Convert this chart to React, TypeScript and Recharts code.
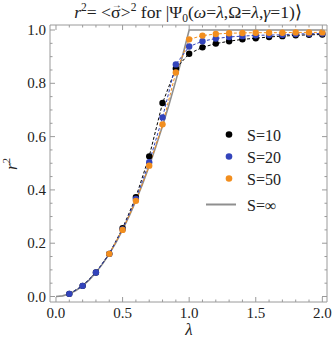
import React from 'react';
import { ComposedChart, Line, XAxis, YAxis, Label, Legend } from 'recharts';

// lambda grid of the finite-S points
const lambdas = [0.1, 0.2, 0.3, 0.4, 0.5, 0.6, 0.7, 0.8, 0.9, 1.0, 1.1, 1.2, 1.3, 1.4, 1.5, 1.6, 1.7, 1.8, 1.9, 2.0];

const s10 = [0.01, 0.04, 0.09, 0.16, 0.256, 0.373, 0.526, 0.726, 0.856, 0.911, 0.935, 0.949, 0.958, 0.965, 0.969, 0.974, 0.977, 0.98, 0.982, 0.983];
const s20 = [0.01, 0.04, 0.09, 0.16, 0.252, 0.366, 0.504, 0.672, 0.871, 0.938, 0.958, 0.968, 0.974, 0.977, 0.98, 0.981, 0.982, 0.985, 0.986, 0.987];
const s50 = [null, null, null, 0.16, 0.25, 0.359, 0.491, 0.646, 0.841, 0.965, 0.979, 0.985, 0.988, 0.989, 0.99, 0.99, 0.99, 0.991, 0.991, 0.991];

// S = infinity curve
const infLambdas = [0, 0.05, 0.1, 0.15, 0.2, 0.25, 0.3, 0.35, 0.4, 0.45, 0.5, 0.55, 0.6, 0.65, 0.7, 0.75, 0.8, 0.85, 0.9, 0.95, 1.0, 2.0];
const infValues = [0, 0.0025, 0.01, 0.0225, 0.04, 0.0625, 0.09, 0.1225, 0.16, 0.2025, 0.25, 0.3025, 0.36, 0.4225, 0.49, 0.5625, 0.64, 0.7225, 0.81, 0.9025, 1.0, 1.0];

const xTicks = [0, 0.1, 0.2, 0.3, 0.4, 0.5, 0.6, 0.7, 0.8, 0.9, 1.0, 1.1, 1.2, 1.3, 1.4, 1.5, 1.6, 1.7, 1.8, 1.9, 2.0];
const xMajor = [0, 0.5, 1.0, 1.5, 2.0];
const yTicks = [0, 0.05, 0.1, 0.15, 0.2, 0.25, 0.3, 0.35, 0.4, 0.45, 0.5, 0.55, 0.6, 0.65, 0.7, 0.75, 0.8, 0.85, 0.9, 0.95, 1.0];
const yMajor = [0, 0.2, 0.4, 0.6, 0.8, 1.0];

const seriesNames = ['S=10', 'S=20', 'S=50', 'S=\u221e'];
const colors = ['#000000', '#3344bb', '#f28e1e', '#8f8f8f'];

const toPoints = (xs: number[], ys: (number | null)[]) => xs.map((x, i) => ({ x, y: ys[i] }));

const data10 = toPoints(lambdas, s10);
const data20 = toPoints(lambdas, s20);
const data50 = toPoints(lambdas, s50);
const dataInf = toPoints(infLambdas, infValues);

const FRAME = '#9a9a9a';
const SERIF = 'Liberation Serif';
const TEXT = '#222';

const isIn = (v: number, list: number[]) => list.some((m) => Math.abs(m - v) < 1e-6);

const BottomTick = (props: any) => {
  const { x, y, payload } = props;
  const major = isIn(payload.value, xMajor);
  return (
    <g>
      <line x1={x} x2={x} y1={y} y2={y - (major ? 5 : 2.5)} stroke={FRAME} />
      {major && (
        <text x={x} y={y + 16} textAnchor="middle" fontFamily={SERIF} fontSize={15} fill={TEXT}>
          {payload.value.toFixed(1)}
        </text>
      )}
    </g>
  );
};

const TopTick = (props: any) => {
  const { x, y, payload } = props;
  const major = isIn(payload.value, xMajor);
  return <line x1={x} x2={x} y1={y} y2={y + (major ? 5 : 2.5)} stroke={FRAME} />;
};

const LeftTick = (props: any) => {
  const { x, y, payload } = props;
  const major = isIn(payload.value, yMajor);
  return (
    <g>
      <line x1={x} x2={x + (major ? 5 : 2.5)} y1={y} y2={y} stroke={FRAME} />
      {major && (
        <text x={x - 4} y={y + 5} textAnchor="end" fontFamily={SERIF} fontSize={15} fill={TEXT}>
          {payload.value.toFixed(1)}
        </text>
      )}
    </g>
  );
};

const RightTick = (props: any) => {
  const { x, y, payload } = props;
  const major = isIn(payload.value, yMajor);
  return <line x1={x} x2={x - (major ? 5 : 2.5)} y1={y} y2={y} stroke={FRAME} />;
};

const Title = () => (
  <text x={188} y={18} textAnchor="middle" fontFamily={SERIF} fontSize={17.6} fill={TEXT}>
    <tspan fontStyle="italic">r</tspan>
    <tspan dy={-7} fontSize={11.5}>2</tspan>
    <tspan dy={7}>{'= <\u03c3'}</tspan>
    <tspan dx={-8.8} dy={-10} fontSize={10}>{'\u2192'}</tspan>
    <tspan dx={-1} dy={10}>{'>'}</tspan>
    <tspan dy={-7} fontSize={11.5}>2</tspan>
    <tspan dy={7}>{' for |\u03a8'}</tspan>
    <tspan dy={4} fontSize={11.5}>0</tspan>
    <tspan dy={-4}>(</tspan>
    <tspan fontStyle="italic">{'\u03c9'}</tspan>
    <tspan>=</tspan>
    <tspan fontStyle="italic">{'\u03bb'}</tspan>
    <tspan>{',\u03a9='}</tspan>
    <tspan fontStyle="italic">{'\u03bb'}</tspan>
    <tspan>,</tspan>
    <tspan fontStyle="italic">{'\u03b3'}</tspan>
    <tspan>{'=1)\u27e9'}</tspan>
  </text>
);

const LegendBox = () => {
  const rows = [14.5, 36.5, 58.5, 84.5];
  return (
    <svg width={120} height={100} style={{ display: 'block' }}>
      {seriesNames.map((name, i) => (
        <g key={name}>
          {i < 3 ? (
            <circle cx={29} cy={rows[i]} r={3.3} fill={colors[i]} />
          ) : (
            <line x1={6} x2={36} y1={rows[i]} y2={rows[i]} stroke={colors[i]} strokeWidth={2} />
          )}
          <text x={47} y={rows[i] + 6} fontFamily={SERIF} fontSize={16} fill={TEXT}>
            {name}
          </text>
        </g>
      ))}
    </svg>
  );
};

export default function App() {
  const dot = (c: string) => ({ r: 3.2, fill: c, stroke: 'none' });
  return (
    <div style={{ position: 'absolute', left: 0, top: 0, background: '#fff' }}>
      <ComposedChart width={332} height={346} margin={{ top: 0, right: 0, bottom: 0, left: 0 }}>
        <XAxis
          xAxisId="b"
          dataKey="x"
          type="number"
          domain={[-0.045, 2.035]}
          allowDataOverflow
          ticks={xTicks}
          interval={0}
          height={44}
          tickSize={0}
          tickMargin={0}
          tickLine={false}
          axisLine={{ stroke: FRAME }}
          tick={<BottomTick />}
        >
          <Label
            content={() => (
              <text x={189} y={335} textAnchor="middle" fontFamily={SERIF} fontSize={17} fontStyle="italic" fill={TEXT}>
                {'\u03bb'}
              </text>
            )}
          />
        </XAxis>
        <XAxis
          xAxisId="t"
          orientation="top"
          dataKey="x"
          type="number"
          domain={[-0.045, 2.035]}
          allowDataOverflow
          ticks={xTicks}
          interval={0}
          height={25}
          tickSize={0}
          tickMargin={0}
          tickLine={false}
          axisLine={{ stroke: FRAME }}
          tick={<TopTick />}
        >
          <Label content={() => <Title />} />
        </XAxis>
        <YAxis
          yAxisId="l"
          type="number"
          domain={[-0.0206, 1.0188]}
          allowDataOverflow
          ticks={yTicks}
          interval={0}
          width={50}
          tickSize={0}
          tickMargin={0}
          tickLine={false}
          axisLine={{ stroke: FRAME }}
          tick={<LeftTick />}
        >
          <Label
            content={() => (
              <text transform="translate(17,164) rotate(-90)" textAnchor="middle" fontFamily={SERIF} fontSize={17} fill={TEXT}>
                <tspan fontStyle="italic">r</tspan>
                <tspan dy={-7} fontSize={11}>2</tspan>
              </text>
            )}
          />
        </YAxis>
        <YAxis
          yAxisId="r"
          orientation="right"
          type="number"
          domain={[-0.0206, 1.0188]}
          allowDataOverflow
          ticks={yTicks}
          interval={0}
          width={5}
          tickSize={0}
          tickMargin={0}
          tickLine={false}
          axisLine={{ stroke: FRAME }}
          tick={<RightTick />}
        />
        <Line
          xAxisId="b"
          yAxisId="l"
          data={dataInf}
          dataKey="y"
          type="linear"
          stroke={colors[3]}
          strokeWidth={1.6}
          dot={false}
          isAnimationActive={false}
        />
        <Line
          xAxisId="b"
          yAxisId="l"
          data={data10}
          dataKey="y"
          type="linear"
          stroke={colors[0]}
          strokeWidth={1}
          strokeDasharray="3 2"
          dot={dot(colors[0])}
          isAnimationActive={false}
        />
        <Line
          xAxisId="b"
          yAxisId="l"
          data={data20}
          dataKey="y"
          type="linear"
          stroke={colors[1]}
          strokeWidth={1}
          strokeDasharray="3 2"
          dot={dot(colors[1])}
          isAnimationActive={false}
        />
        <Line
          xAxisId="b"
          yAxisId="l"
          data={data50}
          dataKey="y"
          type="linear"
          stroke={colors[2]}
          strokeWidth={1}
          strokeDasharray="3 2"
          dot={dot(colors[2])}
          isAnimationActive={false}
        />
        <Legend
          layout="vertical"
          align="center"
          verticalAlign="middle"
          content={() => <LegendBox />}
          wrapperStyle={{ left: 200, top: 120, width: 120, height: 100 }}
        />
      </ComposedChart>
    </div>
  );
}
